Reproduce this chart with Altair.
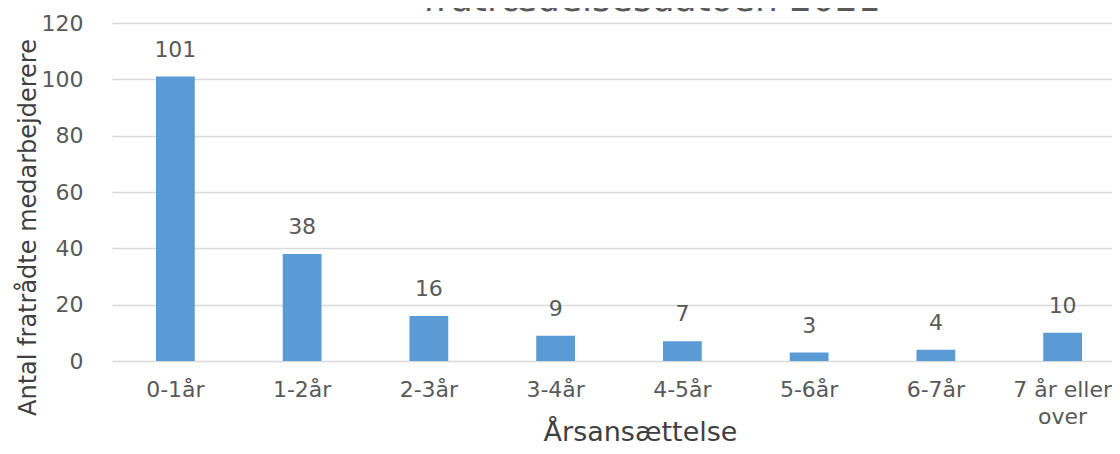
import altair as alt
import pandas as pd

categories = ["0-1år", "1-2år", "2-3år", "3-4år", "4-5år", "5-6år", "6-7år", "7 år eller over"]
values = [101, 38, 16, 9, 7, 3, 4, 10]
y_ticks = [0, 20, 40, 60, 80, 100, 120]
title_text = ["fratrædelsesdatoen 2021"]

df = pd.DataFrame({"kategori": categories, "antal": values})
title_df = pd.DataFrame({"titel": title_text})

FONT = "DejaVu Sans"
GRAY = "#595959"

base = alt.Chart(df).encode(
    x=alt.X(
        "kategori:N",
        sort=categories,
        scale=alt.Scale(range=[0, 1014], paddingInner=0.694, paddingOuter=0.347),
        axis=alt.Axis(
            title="Årsansættelse",
            titleFont=FONT,
            titleFontSize=27,
            titleFontWeight="normal",
            titleColor="#404040",
            titleX=528,
            titleY=79,
            titleBaseline="alphabetic",
            titleAlign="center",
            labelFont=FONT,
            labelFontSize=22,
            labelColor=GRAY,
            labelAngle=0,
            labelPadding=18,
            labelLineHeight=27,
            labelExpr="datum.label == '7 år eller over' ? ['7 år eller', 'over'] : datum.label",
            ticks=False,
            tickSize=0,
            domain=False,
            grid=False,
        ),
    ),
    y=alt.Y(
        "antal:Q",
        scale=alt.Scale(domain=[0, 120], nice=False),
        axis=alt.Axis(
            title="Antal fratrådte medarbejderere",
            titleFont=FONT,
            titleFontSize=24,
            titleFontWeight="normal",
            titleColor="#404040",
            titleX=-84,
            titleY=204,
            titleAngle=-90,
            titleAlign="center",
            titleBaseline="middle",
            values=y_ticks,
            labelFont=FONT,
            labelFontSize=22,
            labelColor=GRAY,
            labelPadding=29,
            ticks=False,
            tickSize=0,
            domain=False,
            grid=True,
            gridColor="#d9d9d9",
            gridWidth=1.5,
        ),
    ),
)

bars = base.mark_bar(color="#5b9bd5")
labels = base.mark_text(
    font=FONT, fontSize=22, color=GRAY, baseline="alphabetic", dy=-20
).encode(text="antal:Q")

title = alt.Chart(title_df).mark_text(
    font=FONT, fontSize=36, color=GRAY, baseline="alphabetic", align="center"
).encode(text="titel:N", x=alt.value(540), y=alt.value(-12))

chart = (
    alt.layer(bars, labels, title)
    .properties(
        width=1000,
        height=338,
        autosize=alt.AutoSizeParams(type="none"),
        padding={"left": 104, "top": 15, "right": 0, "bottom": 85},
    )
    .configure_view(stroke=None)
)

chart.save("out.html", embed_options={"renderer": "svg", "actions": False})
